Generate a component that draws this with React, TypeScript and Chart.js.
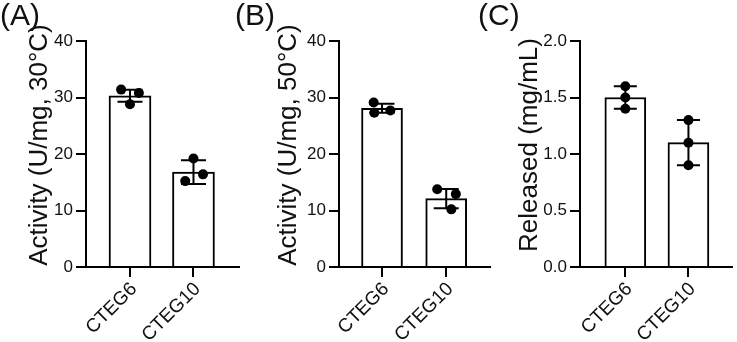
import React, { useEffect, useRef } from 'react';
import { Chart, registerables } from 'chart.js';

Chart.register(...registerables);

const FONT = "'Liberation Sans', Arial, Helvetica, sans-serif";
Chart.defaults.font.family = FONT;

// ---- data ----
const categories = ['CTEG6', 'CTEG10'];

const meansA = [30.3, 16.8];
const sdA = [1.05, 2.1];
const pointsA = [
  [31.4, 30.8, 28.8],
  [19.2, 16.4, 15.2],
];

const meansB = [28.1, 12.1];
const sdB = [0.8, 1.7];
const pointsB = [
  [29.1, 27.3, 27.7],
  [13.75, 12.9, 10.2],
];

const meansC = [1.5, 1.1];
const sdC = [0.1, 0.2];
const pointsC = [
  [1.6, 1.5, 1.4],
  [1.3, 1.1, 0.9],
];

const ticksActivity = [0, 10, 20, 30, 40];
const ticksReleased = [0, 0.5, 1.0, 1.5, 2.0];

// horizontal jitter of the replicate dots (in category units)
const jitterA = [
  [-0.14, 0.14, 0],
  [0, 0.15, -0.13],
];
const jitterB = [
  [-0.13, -0.12, 0.13],
  [-0.14, 0.15, 0.08],
];
const jitterC = [
  [0, 0, 0],
  [0, 0, 0],
];

type PanelProps = {
  left: number;
  width: number;
  yWidth: number;
  padRight: number;
  xMin: number;
  xMax: number;
  means: number[];
  sds: number[];
  points: number[][];
  jitter: number[][];
  yTicks: number[];
  decimals: number;
  yTitle: string;
  titleX: number;
  capWidth: number;
  barWidth: number;
};

function Panel(p: PanelProps) {
  const ref = useRef<HTMLCanvasElement | null>(null);
  useEffect(() => {
    if (!ref.current) return;
    const yMax = p.yTicks[p.yTicks.length - 1];
    const step = p.yTicks[1] - p.yTicks[0];

    const errorBars = {
      id: 'errorBars',
      afterDatasetsDraw(chart: any) {
        const { ctx } = chart;
        const xs = chart.scales.x;
        const ys = chart.scales.y;
        ctx.save();
        ctx.strokeStyle = '#000';
        ctx.lineWidth = 2;
        p.means.forEach((m, i) => {
          const x = xs.getPixelForValue(i);
          const yt = ys.getPixelForValue(m + p.sds[i]);
          const yb = ys.getPixelForValue(m - p.sds[i]);
          const h = p.capWidth / 2;
          ctx.beginPath();
          ctx.moveTo(x, yt);
          ctx.lineTo(x, yb);
          ctx.moveTo(x - h, yt);
          ctx.lineTo(x + h, yt);
          ctx.moveTo(x - h, yb);
          ctx.lineTo(x + h, yb);
          ctx.stroke();
        });
        ctx.restore();
      },
    };

    const yTitlePlugin = {
      id: 'yTitle',
      afterDraw(chart: any) {
        const { ctx, chartArea } = chart;
        const cy = (chartArea.top + chartArea.bottom) / 2 - 9;
        ctx.save();
        ctx.translate(p.titleX, cy);
        ctx.rotate(-Math.PI / 2);
        ctx.font = `26px ${FONT}`;
        ctx.fillStyle = '#111';
        ctx.textAlign = 'center';
        ctx.textBaseline = 'middle';
        ctx.fillText(p.yTitle, 0, 0);
        ctx.restore();
      },
    };

    const xGrid = {
      drawOnChartArea: false,
      drawTicks: true,
      tickLength: 10,
      color: '#000',
      lineWidth: 2,
      offset: false,
    };
    const yGrid = { ...xGrid };
    const axisBorder = { display: true, color: '#000', width: 2 };

    const chart = new Chart(ref.current, {
      type: 'bar',
      data: {
        datasets: [
          {
            type: 'scatter',
            order: 0,
            data: p.points.flatMap((vals, i) =>
              vals.map((v, k) => ({ x: i + p.jitter[i][k], y: v }))
            ),
            pointRadius: 5,
            pointBackgroundColor: '#000',
            pointBorderWidth: 0,
            showLine: false,
          } as any,
          {
            type: 'bar',
            order: 1,
            data: p.means.map((m, i) => ({ x: i, y: m })),
            backgroundColor: '#fff',
            borderColor: '#000',
            borderWidth: 2,
            barThickness: p.barWidth,
          } as any,
        ],
      },
      options: {
        animation: false,
        responsive: false,
        layout: { padding: { left: 0, right: p.padRight, top: 41, bottom: 0 } },
        plugins: { legend: { display: false }, tooltip: { enabled: false } },
        scales: {
          x: {
            type: 'linear',
            offset: false,
            min: p.xMin,
            max: p.xMax,
            afterBuildTicks: (s: any) => {
              s.ticks = categories.map((_, i) => ({ value: i }));
            },
            afterFit: (s: any) => {
              s.height = 75;
            },
            ticks: {
              autoSkip: false,
              minRotation: 45,
              maxRotation: 45,
              padding: 1,
              labelOffset: 4,
              color: '#111',
              font: { size: 19, family: FONT },
              callback: (v: any) => categories[Math.round(Number(v))] ?? '',
            },
            grid: xGrid,
            border: axisBorder,
          } as any,
          y: {
            type: 'linear',
            min: 0,
            max: yMax,
            afterBuildTicks: (s: any) => {
              s.ticks = p.yTicks.map((v) => ({ value: v }));
            },
            afterFit: (s: any) => {
              s.width = p.yWidth;
            },
            ticks: {
              stepSize: step,
              padding: 3,
              color: '#111',
              font: { size: 17, family: FONT },
              callback: (v: any) => Number(v).toFixed(p.decimals),
            },
            grid: yGrid,
            border: axisBorder,
          } as any,
        },
      },
      plugins: [errorBars, yTitlePlugin],
    });
    return () => chart.destroy();
  }, []);

  return (
    <canvas
      ref={ref}
      width={p.width}
      height={342}
      style={{ position: 'absolute', left: p.left, top: 0, width: p.width, height: 342 }}
    />
  );
}

const labelStyle = (left: number): React.CSSProperties => ({
  position: 'absolute',
  left,
  top: 0,
  fontFamily: FONT,
  fontSize: 30,
  lineHeight: '30px',
  color: '#111',
  whiteSpace: 'nowrap',
});

export default function App() {
  return (
    <div
      style={{
        position: 'fixed',
        left: 0,
        top: 0,
        width: 737,
        height: 342,
        background: '#fff',
        overflow: 'hidden',
      }}
    >
      <Panel
        left={0}
        width={245}
        yWidth={86}
        padRight={6}
        xMin={-0.693}
        xMax={1.717}
        means={meansA}
        sds={sdA}
        points={pointsA}
        jitter={jitterA}
        yTicks={ticksActivity}
        decimals={0}
        yTitle="Activity (U/mg, 30°C)"
        titleX={39.5}
        capWidth={25}
        barWidth={42}
      />
      <Panel
        left={250}
        width={245}
        yWidth={89}
        padRight={3}
        xMin={-0.67}
        xMax={1.682}
        means={meansB}
        sds={sdB}
        points={pointsB}
        jitter={jitterB}
        yTicks={ticksActivity}
        decimals={0}
        yTitle="Activity (U/mg, 50°C)"
        titleX={38.5}
        capWidth={25}
        barWidth={41}
      />
      <Panel
        left={495}
        width={242}
        yWidth={85}
        padRight={0}
        xMin={-0.718}
        xMax={1.69}
        means={meansC}
        sds={sdC}
        points={pointsC}
        jitter={jitterC}
        yTicks={ticksReleased}
        decimals={1}
        yTitle="Released (mg/mL)"
        titleX={35}
        capWidth={23}
        barWidth={41}
      />
      <div style={labelStyle(0)}>(A)</div>
      <div style={labelStyle(235)}>(B)</div>
      <div style={labelStyle(478)}>(C)</div>
    </div>
  );
}
